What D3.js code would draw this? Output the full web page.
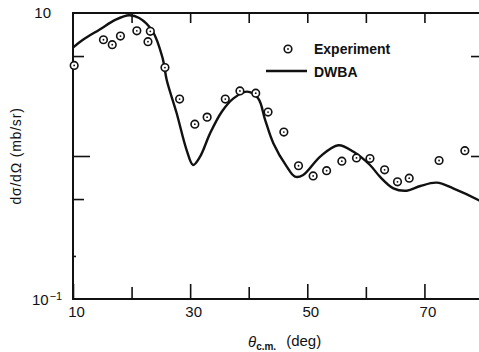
<!DOCTYPE html>
<html>
<head>
<meta charset="utf-8">
<script src="https://cdn.jsdelivr.net/npm/d3@7"></script>
<style>
  body { margin: 0; background: #fff; }
  text { font-family: "Liberation Sans", Arial, sans-serif; fill: #111; }
</style>
</head>
<body>
<div id="chart"></div>
<script>
// experimental points: angle (deg), cross section (mb/sr)
const expAngle = [10.2, 15.2, 16.7, 18.1, 20.9, 22.8, 23.2, 25.7, 28.2, 30.8, 32.9, 36.0, 38.5, 41.2,
  43.3, 46.0, 48.5, 51.0, 53.3, 55.9, 58.4, 60.7, 63.2, 65.4, 67.4, 72.5, 76.9];
const expValue = [4.3, 6.5, 6.0, 6.9, 7.5, 6.3, 7.45, 4.15, 2.5, 1.67, 1.87, 2.5, 2.85, 2.75,
  2.03, 1.47, 0.855, 0.725, 0.79, 0.92, 0.97, 0.96, 0.8, 0.66, 0.7, 0.93, 1.09];

// DWBA curve
const dwbaAngle = [10, 11.7, 14.5, 17.3, 19.6, 21.3, 23.6, 25.3, 26.0, 27.7, 29.4, 30.5, 31.7, 33.4,
  35.4, 37.4, 39.7, 41.6, 42.8, 44.2, 46.5, 47.9, 49.3, 52.2, 55.3, 57.9, 60.7, 62.4, 64.7, 67.0,
  69.3, 72.1, 74.9, 79.2, 80];
const dwbaValue = [5.74, 6.5, 7.64, 8.98, 9.64, 9.23, 7.45, 4.84, 3.4, 1.99, 1.1, 0.865, 0.99, 1.44,
  2.04, 2.53, 2.82, 2.53, 1.79, 1.23, 0.842, 0.717, 0.737, 0.99, 1.19, 1.07, 0.865, 0.717, 0.594, 0.572,
  0.617, 0.651, 0.594, 0.492, 0.47];

const xMajor = [10, 30, 50, 70];
const xMinor = [20, 40, 60];
const topTicks = [20, 30, 40, 50, 60, 70];

const width = 479, height = 352;
const m = { left: 73, right: 483, top: 13, bottom: 299 };

const svg = d3.select("#chart")
  .append("svg")
  .attr("width", width)
  .attr("height", height);

svg.append("rect").attr("width", width).attr("height", height).attr("fill", "#fff");

const x = d3.scaleLinear().domain([10, 80]).range([m.left, m.right]);
const y = d3.scaleLog().domain([0.1, 10]).range([m.bottom, m.top]);

// ticks
const tickStyle = g => {
  g.select(".domain").remove();
  g.selectAll(".tick line").attr("stroke", "#111").attr("stroke-width", 1.6);
  g.selectAll(".tick text").attr("font-size", 15).attr("fill", "#111");
};

svg.append("g")
  .attr("transform", `translate(0,${m.bottom})`)
  .call(d3.axisBottom(x).tickValues(xMajor).tickSize(-15).tickPadding(7).tickFormat(d3.format("d")))
  .call(tickStyle)
  .call(g => g.selectAll(".tick text").attr("dx", 3));

svg.append("g")
  .attr("transform", `translate(0,${m.bottom})`)
  .call(d3.axisBottom(x).tickValues(xMinor).tickSize(-12).tickFormat(""))
  .call(tickStyle);

svg.append("g")
  .attr("transform", `translate(0,${m.top})`)
  .call(d3.axisTop(x).tickValues(topTicks).tickSize(-10).tickFormat(""))
  .call(tickStyle);

svg.append("g")
  .attr("transform", `translate(${m.left},0)`)
  .call(d3.axisLeft(y).tickValues([5, 0.5]).tickSize(-11).tickFormat(""))
  .call(tickStyle);

svg.append("g")
  .attr("transform", `translate(${m.left},0)`)
  .call(d3.axisLeft(y).tickValues([1]).tickSize(-17).tickFormat(""))
  .call(tickStyle);

svg.append("g")
  .attr("transform", `translate(${m.left},0)`)
  .call(d3.axisLeft(y).tickValues([0.2]).tickSize(-3).tickFormat(""))
  .call(tickStyle);

svg.append("g")
  .attr("transform", `translate(${m.right},0)`)
  .call(d3.axisRight(y).tickValues([5, 1]).tickSize(-12).tickFormat(""))
  .call(tickStyle);

// frame
svg.append("path")
  .attr("d", `M${m.right},${m.top}H${m.left}V${m.bottom}H${m.right}`)
  .attr("fill", "none")
  .attr("stroke", "#111")
  .attr("stroke-width", 2);

// y tick labels
svg.append("text")
  .attr("x", 51).attr("y", y(10))
  .attr("dy", "0.36em")
  .attr("text-anchor", "end")
  .attr("font-size", 15)
  .text("10");

const lo = svg.append("text")
  .attr("x", 32).attr("y", y(0.1))
  .attr("dy", "0.42em")
  .attr("font-size", 15);
lo.append("tspan").text("10");
lo.append("tspan").attr("font-size", 11).attr("dy", "-0.45em").attr("dx", 1).text("\u22121");

// curve
const line = d3.line()
  .x((d, i) => x(dwbaAngle[i]))
  .y(d => y(d))
  .curve(d3.curveCatmullRom);

const plot = svg.append("g");
plot.append("clipPath").attr("id", "clip")
  .append("rect").attr("x", m.left).attr("y", m.top).attr("width", m.right - m.left).attr("height", m.bottom - m.top);

plot.append("path")
  .datum(dwbaValue)
  .attr("clip-path", "url(#clip)")
  .attr("fill", "none")
  .attr("stroke", "#111")
  .attr("stroke-width", 2.4)
  .attr("d", line);

// experiment markers
const marker = (g, cx, cy) => {
  g.append("circle").attr("cx", cx).attr("cy", cy).attr("r", 3.8)
    .attr("fill", "#fff").attr("stroke", "#111").attr("stroke-width", 1.6);
  g.append("circle").attr("cx", cx).attr("cy", cy).attr("r", 0.9).attr("fill", "#111");
};

expValue.forEach((v, i) => marker(plot, x(expAngle[i]), y(v)));

// legend
marker(svg, 288, 49);
svg.append("text").attr("x", 314).attr("y", 49).attr("dy", "0.36em")
  .attr("font-size", 14).attr("font-weight", "bold").text("Experiment");
svg.append("line").attr("x1", 266).attr("x2", 307).attr("y1", 71).attr("y2", 71)
  .attr("stroke", "#111").attr("stroke-width", 2.4);
svg.append("text").attr("x", 314).attr("y", 72).attr("dy", "0.36em")
  .attr("font-size", 14).attr("font-weight", "bold").text("DWBA");

// axis titles
const xt = svg.append("text")
  .attr("x", 248).attr("y", 342).attr("dy", "0.36em")
  .attr("font-size", 15);
xt.append("tspan").attr("font-style", "italic").text("\u03b8");
xt.append("tspan").attr("font-size", 10).attr("font-weight", "bold").attr("dy", "0.3em").text("c.m.");
xt.append("tspan").attr("dy", "-0.3em").attr("dx", 10).text("(deg)");

svg.append("text")
  .attr("transform", `translate(16,156) rotate(-90)`)
  .attr("text-anchor", "middle")
  .attr("dy", "0.36em")
  .attr("font-size", 14)
  .attr("letter-spacing", 0.8)
  .text("d\u03c3/d\u03a9  (mb/sr)");
</script>
</body>
</html>
